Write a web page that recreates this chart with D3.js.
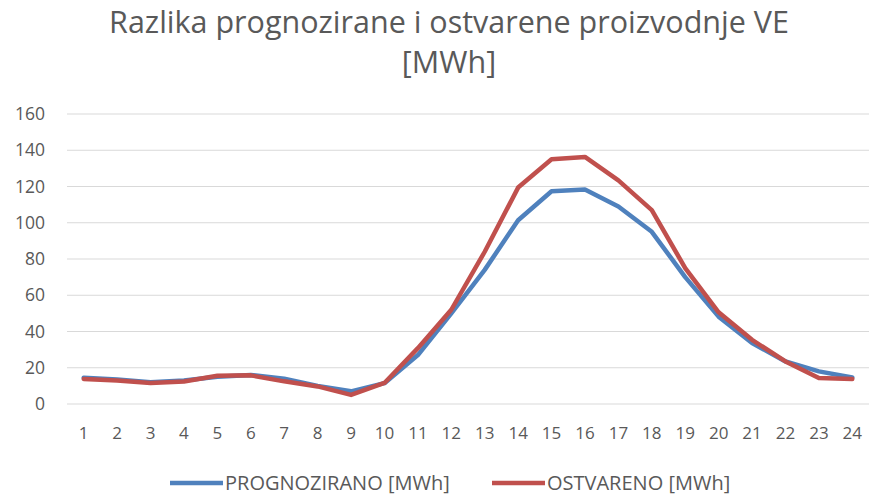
<!DOCTYPE html>
<html>
<head>
    <script src="https://cdn.jsdelivr.net/npm/d3@7/dist/d3.min.js" charset="utf-8"></script>
    <style>
        body { margin: 0; background: white; }
        text { font-family: "Open Sans", sans-serif; fill: #595959; }
    </style>
</head>
<body>
   <script>
        var hours = d3.range(1, 25);
        var prognozirano = [14.5, 13.5, 12, 13, 15, 16, 14, 10, 7, 11.5, 27, 50, 74, 101.4, 117.4, 118.3, 109, 95, 70, 48.2, 33.6, 23.5, 18, 14.6];
        var ostvareno = [13.8, 13, 11.6, 12.4, 15.6, 15.8, 12.5, 9.7, 5, 11.6, 30.8, 52, 84, 119.4, 135, 136.3, 123.4, 107, 75, 50.6, 35.4, 23.5, 14.3, 13.8];
        var yTicks = [0, 20, 40, 60, 80, 100, 120, 140, 160];
        var series = [
            { name: "PROGNOZIRANO [MWh]", values: prognozirano, color: "#4F81BD" },
            { name: "OSTVARENO [MWh]", values: ostvareno, color: "#C0504D" }
        ];

        var width = 871, height = 496;
        var plotLeft = 67, plotRight = 869, plotTop = 114, plotBottom = 404;

        var svg = d3.select("body")
            .append("svg")
            .attr("width", width)
            .attr("height", height);

        svg.append("text")
            .attr("x", 449).attr("y", 33)
            .attr("text-anchor", "middle")
            .style("font-size", "30.5px")
            .text("Razlika prognozirane i ostvarene proizvodnje VE");
        svg.append("text")
            .attr("x", 449).attr("y", 73)
            .attr("text-anchor", "middle")
            .style("font-size", "30.5px")
            .text("[MWh]");

        var x = d3.scaleBand().domain(hours).range([plotLeft, plotRight]);
        var y = d3.scaleLinear().domain([0, 160]).range([plotBottom, plotTop]);

        // grid
        svg.append("g")
            .selectAll("line")
            .data(yTicks)
            .enter()
            .append("line")
            .attr("x1", plotLeft).attr("x2", plotRight)
            .attr("y1", function (d) { return y(d); })
            .attr("y2", function (d) { return y(d); })
            .style("stroke", "#d9d9d9")
            .style("stroke-width", 1);

        var yAxis = svg.append("g")
            .attr("transform", "translate(" + (plotLeft - 22) + ",0)")
            .call(d3.axisLeft(y).tickValues(yTicks).tickSize(0).tickPadding(0));
        yAxis.select(".domain").remove();
        yAxis.selectAll("text").style("font-size", "17.5px").style("fill", "#595959");

        var xAxis = svg.append("g")
            .attr("transform", "translate(0," + (plotBottom + 18) + ")")
            .call(d3.axisBottom(x).tickSize(0).tickPadding(5));
        xAxis.select(".domain").remove();
        xAxis.selectAll("text").style("font-size", "17px").style("fill", "#595959");

        var line = d3.line()
            .x(function (d, i) { return x(hours[i]) + x.bandwidth() / 2; })
            .y(function (d) { return y(d); });

        svg.selectAll("path.series")
            .data(series)
            .enter()
            .append("path")
            .attr("class", "series")
            .attr("d", function (d) { return line(d.values); })
            .style("fill", "none")
            .style("stroke", function (d) { return d.color; })
            .style("stroke-width", 4.5)
            .style("stroke-linejoin", "round")
            .style("stroke-linecap", "round");

        var legendX = [170, 492];
        var legend = svg.selectAll("g.legend")
            .data(series)
            .enter()
            .append("g")
            .attr("class", "legend")
            .attr("transform", function (d, i) { return "translate(" + legendX[i] + ",483)"; });
        legend.append("line")
            .attr("x1", 0).attr("x2", 53)
            .style("stroke", function (d) { return d.color; })
            .style("stroke-width", 4.5);
        legend.append("text")
            .attr("x", 55).attr("y", 7)
            .style("font-size", "20px")
            .text(function (d) { return d.name; });
    </script>
</body>
</html>
